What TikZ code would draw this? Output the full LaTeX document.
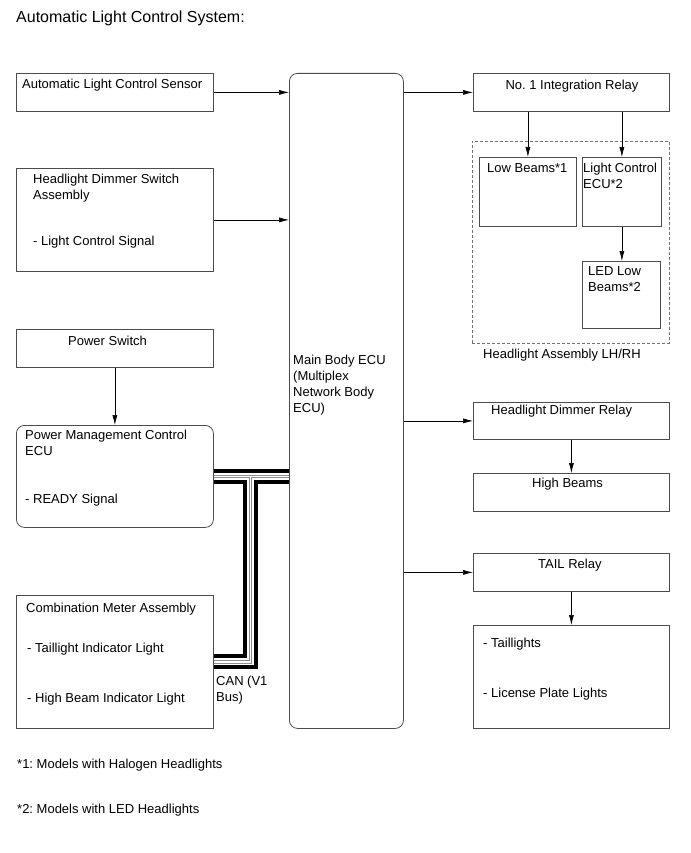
\documentclass[tikz,border=0pt]{standalone}
\usepackage{fontspec}
\setmainfont{Liberation Sans}
\frenchspacing
\usetikzlibrary{arrows.meta}
\tikzset{blk/.style={draw=black!70, line width=0.8pt, anchor=north west, inner sep=0pt},
         rblk/.style={blk, rounded corners=8pt},
         lbl/.style={anchor=base west, align=left, inner sep=0pt, font=\fontsize{13}{16}\selectfont},
         sig/.style={-{Latex[length=10pt,width=5pt]}, line width=0.6pt, black}}

\begin{document}
\begin{tikzpicture}[x=1pt,y=-1pt]
     \useasboundingbox (0,0) rectangle (690,853);
     \node[lbl, font=\fontsize{16}{19}\selectfont] (title) at (16,23) {Automatic Light Control System:};
     % left column (multi-line labels sit on their last line)
     \begin{scope}
      \node[blk, minimum width=197pt, minimum height=38pt] (als) at (16,73) {};
      \node[lbl] (alst) at (22,89) {Automatic Light Control Sensor};
      \node[blk, minimum width=197pt, minimum height=103pt] (hds) at (16,168) {};
      \node[lbl] (hdst) at (33,199) {Headlight Dimmer Switch\\Assembly};
      \node[lbl] (hdss) at (33,245) {- Light Control Signal};
      \node[blk, minimum width=197pt, minimum height=38pt] (psw) at (16,329) {};
      \node[lbl] (pswt) at (68,345) {Power Switch};
      \node[rblk, minimum width=197pt, minimum height=102pt] (pmc) at (16,425) {};
      \node[lbl] (pmct) at (25,455) {Power Management Control\\ECU};
      \node[lbl] (pmcs) at (25,503) {- READY Signal};
      \node[blk, minimum width=197pt, minimum height=133pt] (cma) at (16,595) {};
      \node[lbl] (cmat) at (26,612) {Combination Meter Assembly};
      \node[lbl] (cmas) at (27,652) {- Taillight Indicator Light};
      \node[lbl] (cmah) at (27,702) {- High Beam Indicator Light};
     \end{scope}
     % main body ecu
     \node[rblk, minimum width=114pt, minimum height=655pt] (mbe) at (289,73) {};
     \node[lbl] (mbet) at (293,412) {Main Body ECU\\(Multiplex\\Network Body\\ECU)};
     % right column
     \begin{scope}
      \node[blk, minimum width=196pt, minimum height=38pt] (ir1) at (473,73) {};
      \node[lbl, anchor=base] (ir1t) at (572,90) {No. 1 Integration Relay};
      \node[blk, draw=black!55, dash pattern=on 3pt off 2pt, minimum width=197pt, minimum height=202pt] (hla) at (472,141) {};
      \node[lbl] (hlat) at (483,358) {Headlight Assembly LH/RH};
      \node[blk, minimum width=97pt, minimum height=69pt] (lob) at (479,157) {};
      \node[lbl] (lobt) at (487,173) {Low Beams*1};
      \node[blk, minimum width=79pt, minimum height=69pt] (lce) at (582,157) {};
      \node[lbl] (lcet) at (583,189) {Light Control\\ECU*2};
      \node[blk, minimum width=78pt, minimum height=67pt] (led) at (582,261) {};
      \node[lbl] (ledt) at (588,291) {LED Low\\Beams*2};
      \node[blk, minimum width=196pt, minimum height=37pt] (hdr) at (473,402) {};
      \node[lbl] (hdrt) at (491,414) {Headlight Dimmer Relay};
      \node[blk, minimum width=196pt, minimum height=38pt] (hib) at (473,473) {};
      \node[lbl] (hibt) at (532,487) {High Beams};
      \node[blk, minimum width=196pt, minimum height=38pt] (tlr) at (473,553) {};
      \node[lbl] (tlrt) at (538,568) {TAIL Relay};
      \node[blk, minimum width=196pt, minimum height=103pt] (tll) at (473,625) {};
      \node[lbl] (tllt) at (483,647) {- Taillights};
      \node[lbl] (tllp) at (483,697) {- License Plate Lights};
     \end{scope}
     % can bus
     \coordinate (bj) at (250.5,476);
     \foreach \w/\c in {15/black,7/white,3.5/black!45,1.2/white}
      \draw[line width=\w pt,\c] (pmc.east) -- (pmc.east -| mbe.west)
                                 (pmc.east -| bj) |- (cma.east);
     \node[lbl] (cant) at (216,701) {CAN (V1\\Bus)};
     % signals
     \draw[sig] (als.east) -- (als.east -| mbe.west);
     \draw[sig] (hds.east) -- (hds.east -| mbe.west);
     \draw[sig] (psw.south) -- (pmc.north);
     \draw[sig] (mbe.east |- ir1.west) -- (ir1.west);
     \draw[sig] (ir1.south -| lob.north) -- (lob.north);
     \draw[sig] (ir1.south -| lce.north) -- (lce.north);
     \draw[sig] (lce.south) -- (lce.south |- led.north);
     \draw[sig] (mbe.east |- hdr.west) -- (hdr.west);
     \draw[sig] (hdr.south) -- (hib.north);
     \draw[sig] (mbe.east |- tlr.west) -- (tlr.west);
     \draw[sig] (tlr.south) -- (tll.north);
     % notes
     \node[lbl] (note1) at (17,768) {*1: Models with Halogen Headlights};
     \node[lbl] (note2) at (17,813) {*2: Models with LED Headlights};
    \end{tikzpicture}
\end{document}
